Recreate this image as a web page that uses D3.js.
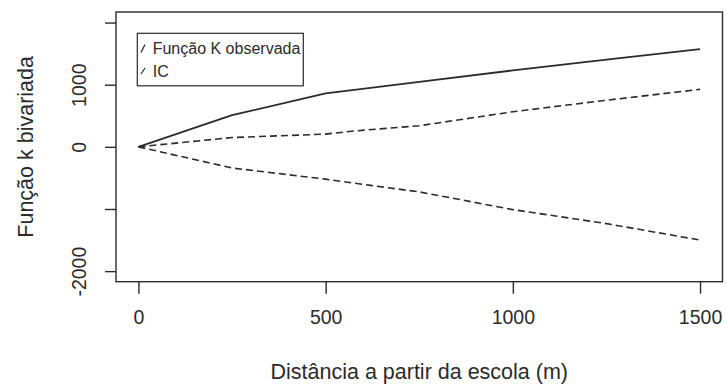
<!DOCTYPE html>
<html>
<head>
<meta charset="utf-8">
<script src="https://cdn.jsdelivr.net/npm/d3@7"></script>
<style>
  html, body { margin: 0; padding: 0; background: #fff; }
  svg { display: block; font-family: "Liberation Sans", Arial, sans-serif; }
</style>
</head>
<body>
<svg id="chart" width="727" height="384"></svg>
<script>
// Distance from the school (m)
const distances = [0, 250, 500, 750, 1000, 1250, 1500];
// Observed bivariate K function
const observedK = [0, 510, 860, 1045, 1230, 1405, 1573];
// Confidence envelope (upper / lower)
const upperDist = [0, 250, 500, 575, 750, 800, 1000, 1250, 1500];
const upperIC   = [0, 150, 205, 255, 340, 385, 565, 750, 925];
const lowerDist = [0, 250, 500, 620, 750, 1000, 1250, 1500];
const lowerIC   = [0, -340, -520, -620, -725, -1010, -1235, -1500];

const xTicks = [0, 500, 1000, 1500];
const yTicks = [-2000, -1000, 0, 1000, 2000];
const yTickLabels = ["-2000", "", "0", "1000", ""];
const legendLabels = ["Função K observada", "IC"];

const svg = d3.select("#chart");
const ink = "#2b2b2b";

const box = { left: 116, right: 722.5, top: 12, bottom: 281.7 };

const x = d3.scaleLinear().domain([-60, 1560]).range([box.left, box.right]);
const y = d3.scaleLinear().domain([-2170, 2170]).range([box.bottom, box.top]);

// Plot frame
svg.append("rect")
  .attr("x", box.left).attr("y", box.top)
  .attr("width", box.right - box.left).attr("height", box.bottom - box.top)
  .attr("fill", "none").attr("stroke", ink).attr("stroke-width", 1.4);

// Bottom axis
const xAxis = svg.append("g")
  .attr("transform", `translate(0,${box.bottom})`)
  .call(d3.axisBottom(x).tickValues(xTicks).tickSize(12).tickPadding(16).tickFormat(d3.format("d")));
xAxis.select(".domain").remove();
xAxis.selectAll("line").attr("stroke", ink).attr("stroke-width", 1.4);
xAxis.selectAll("text").attr("fill", ink).attr("font-size", 19.5)
  .attr("font-family", "Liberation Sans, Arial, sans-serif");

// Left axis (labels rotated, as in base R)
const yAxis = svg.append("g")
  .attr("transform", `translate(${box.left},0)`)
  .call(d3.axisLeft(y).tickValues(yTicks).tickSize(11).tickFormat((d, i) => yTickLabels[i]));
yAxis.select(".domain").remove();
yAxis.selectAll("line").attr("stroke", ink).attr("stroke-width", 1.4);
yAxis.selectAll("text")
  .attr("fill", ink).attr("font-size", 19.5)
  .attr("font-family", "Liberation Sans, Arial, sans-serif")
  .attr("x", null).attr("dy", null)
  .attr("text-anchor", "middle")
  .attr("transform", "translate(-30,0) rotate(-90)")
  .attr("dy", "-0.0em")
  .attr("y", 0);

// Axis titles
svg.append("text")
  .attr("x", (box.left + box.right) / 2).attr("y", 379)
  .attr("text-anchor", "middle").attr("font-size", 21.5).attr("fill", ink)
  .text("Distância a partir da escola (m)");

svg.append("text")
  .attr("transform", `translate(33,${(box.top + box.bottom) / 2}) rotate(-90)`)
  .attr("text-anchor", "middle").attr("font-size", 21.5).attr("fill", ink)
  .text("Função k bivariada");

// Curves
const line = d3.line().x(d => x(d[0])).y(d => y(d[1]));
const g = svg.append("g").attr("fill", "none").attr("stroke", ink).attr("stroke-linejoin", "round");

g.append("path")
  .datum(distances.map((d, i) => [d, observedK[i]]))
  .attr("d", line).attr("stroke-width", 1.8);

g.append("path")
  .datum(upperDist.map((d, i) => [d, upperIC[i]]))
  .attr("d", line).attr("stroke-width", 1.6).attr("stroke-dasharray", "7,4");

g.append("path")
  .datum(lowerDist.map((d, i) => [d, lowerIC[i]]))
  .attr("d", line).attr("stroke-width", 1.6).attr("stroke-dasharray", "7,4");

// Legend
const leg = svg.append("g");
leg.append("rect")
  .attr("x", 137.3).attr("y", 33.3).attr("width", 166).attr("height", 52.5)
  .attr("fill", "#fff").attr("stroke", ink).attr("stroke-width", 1.2);

const legRows = leg.selectAll("g.row").data(legendLabels).join("g")
  .attr("class", "row")
  .attr("transform", (d, i) => `translate(0,${48.5 + i * 22.5})`);

legRows.append("line")
  .attr("x1", 141).attr("y1", (d, i) => i === 0 ? 4 : 3)
  .attr("x2", 145).attr("y2", (d, i) => i === 0 ? -4 : -3)
  .attr("stroke", ink).attr("stroke-width", 1.2);

legRows.append("text")
  .attr("x", 152.7).attr("y", 0).attr("dy", "0.35em")
  .attr("font-size", 16).attr("fill", ink)
  .text(d => d);
</script>
</body>
</html>
